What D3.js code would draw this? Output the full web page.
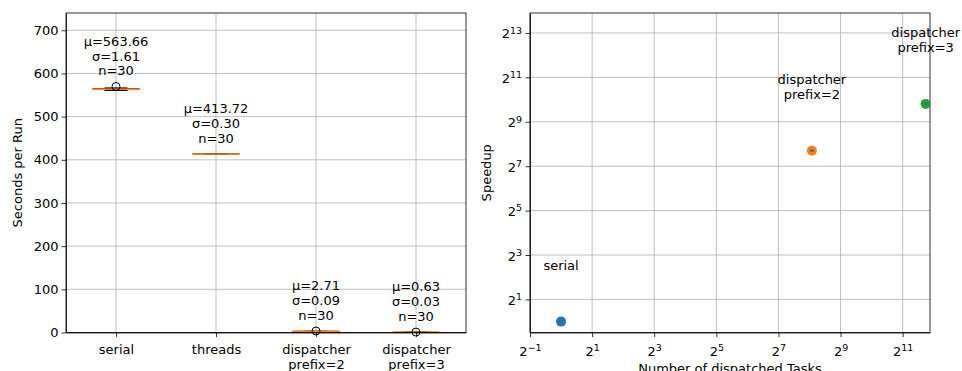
<!DOCTYPE html>
<html>
<head>
<meta charset="utf-8">
<script src="https://cdn.jsdelivr.net/npm/d3@7"></script>
<style>
  body { margin: 0; background: #fff; }
  svg { font-family: "DejaVu Sans", sans-serif; }
  .grid line { stroke: #b0b0b0; stroke-width: 0.8; }
</style>
</head>
<body>
<svg class="chart" width="962" height="371"></svg>
<script>
// box plot data (seconds per run)
const categories = ["serial", "threads", "dispatcher\nprefix=2", "dispatcher\nprefix=3"],
      means = ["563.66", "413.72", "2.71", "0.63"],
      sigmas = ["1.61", "0.30", "0.09", "0.03"],
      counts = [30, 30, 30, 30],
      q1 = [562.7, 413.5, 2.65, 0.61],
      medians = [563.5, 413.7, 2.70, 0.63],
      q3 = [564.4, 413.9, 2.76, 0.65],
      whiskLo = [560.5, 413.2, 2.55, 0.58],
      whiskHi = [566.5, 414.3, 2.90, 0.68],
      fliers = [[569.8], [], [3.4], [1.0]],
      yTicks = [0, 100, 200, 300, 400, 500, 600, 700]

// speedup data
const pointLabels = ["serial", "dispatcher\nprefix=2", "dispatcher\nprefix=3"],
      tasks = [1, 270, 3420],
      speedups = [1, 208, 895],
      pointColors = ["#1f77b4", "#ff7f0e", "#2ca02c"],
      logTicksX = [-1, 1, 3, 5, 7, 9, 11],
      logTicksY = [1, 3, 5, 7, 9, 11, 13]

const FONT = "'DejaVu Sans', sans-serif"

var svg = d3.select(".chart")

function styleAxis(g) {
  g.attr("font-family", FONT).attr("font-size", 13)
  g.selectAll("path, line").attr("stroke", "#000").attr("stroke-width", 0.8)
  g.selectAll("text").attr("fill", "#000")
}

// ---------- left: box plot ----------
var L = { left: 66, right: 466, top: 13, bottom: 332.5 }

var x = d3.scaleLinear().domain([0.5, 4.5]).range([L.left, L.right])
var y = d3.scaleLinear().domain([0, 740]).range([L.bottom, L.top])

var gl = svg.append("g")

var gridL = gl.append("g").attr("class", "grid")
gridL.selectAll("line.h").data(yTicks).enter().append("line")
  .attr("x1", L.left).attr("x2", L.right)
  .attr("y1", d => y(d)).attr("y2", d => y(d))
gridL.selectAll("line.v").data(categories).enter().append("line")
  .attr("x1", (d, i) => x(i + 1)).attr("x2", (d, i) => x(i + 1))
  .attr("y1", L.top).attr("y2", L.bottom)

var bw = 0.46
categories.forEach(function(c, i) {
  var cx = x(i + 1), half = (x(bw) - x(0)) / 2, cap = half / 2
  var b = gl.append("g")
  b.append("line").attr("x1", cx).attr("x2", cx).attr("y1", y(whiskLo[i])).attr("y2", y(q1[i]))
    .attr("stroke", "#000").attr("stroke-width", 1)
  b.append("line").attr("x1", cx).attr("x2", cx).attr("y1", y(q3[i])).attr("y2", y(whiskHi[i]))
    .attr("stroke", "#000").attr("stroke-width", 1)
  ;[whiskLo[i], whiskHi[i]].forEach(function(v) {
    b.append("line").attr("x1", cx - cap).attr("x2", cx + cap).attr("y1", y(v)).attr("y2", y(v))
      .attr("stroke", "#000").attr("stroke-width", 1)
  })
  b.append("rect").attr("x", cx - half).attr("width", 2 * half)
    .attr("y", y(q3[i])).attr("height", Math.max(0.1, y(q1[i]) - y(q3[i])))
    .attr("fill", "none").attr("stroke", "#000").attr("stroke-width", 1)
  b.append("line").attr("x1", cx - half).attr("x2", cx + half)
    .attr("y1", y(medians[i])).attr("y2", y(medians[i]))
    .attr("stroke", "#ff7f0e").attr("stroke-width", 1.5)
  fliers[i].forEach(function(v) {
    b.append("circle").attr("cx", cx).attr("cy", y(v)).attr("r", 4)
      .attr("fill", "none").attr("stroke", "#000").attr("stroke-width", 1)
  })

  var top = d3.max([whiskHi[i]].concat(fliers[i]))
  var base = y(top) - 11
  var lines = ["μ=" + means[i], "σ=" + sigmas[i], "n=" + counts[i]]
  gl.append("text").attr("text-anchor", "middle").style("font-size", "13px")
    .selectAll("tspan").data(lines).enter().append("tspan")
      .attr("x", cx).attr("y", (d, k) => base - (2 - k) * 14.8)
      .text(d => d)
})

gl.append("g")
  .attr("transform", "translate(" + L.left + ",0)")
  .call(d3.axisLeft(y).tickValues(yTicks).tickSize(4.5).tickPadding(3).tickSizeOuter(0))
  .call(styleAxis)

var xa = gl.append("g")
  .attr("transform", "translate(0," + L.bottom + ")")
  .call(d3.axisBottom(x).tickValues([1, 2, 3, 4]).tickSize(4.5).tickSizeOuter(0).tickFormat(""))
  .call(styleAxis)
xa.selectAll(".tick").append("text")
  .attr("text-anchor", "middle").attr("fill", "#000")
  .selectAll("tspan").data((d, i) => categories[i].split("\n")).enter().append("tspan")
    .attr("x", 0).attr("y", (d, k) => 21 + k * 15).text(d => d)

gl.append("rect").attr("x", L.left).attr("y", L.top)
  .attr("width", L.right - L.left).attr("height", L.bottom - L.top)
  .attr("fill", "none").attr("stroke", "#000").attr("stroke-width", 0.8)

gl.append("text")
  .attr("transform", "translate(22," + ((L.top + L.bottom) / 2) + ") rotate(-90)")
  .attr("text-anchor", "middle").style("font-size", "13px")
  .text("Seconds per Run")

// ---------- right: speedup (log2 / log2) ----------
var R = { left: 530, right: 930, top: 13, bottom: 332.5 }

var xs = d3.scaleLog().base(2).domain([Math.pow(2, -1), Math.pow(2, 11.88)]).range([R.left, R.right])
var ys = d3.scaleLog().base(2).domain([Math.pow(2, -0.49), Math.pow(2, 13.9)]).range([R.bottom, R.top])

var gr = svg.append("g")
var grid = gr.append("g").attr("class", "grid")
grid.selectAll("line.v").data(logTicksX).enter().append("line")
  .attr("x1", d => xs(Math.pow(2, d))).attr("x2", d => xs(Math.pow(2, d)))
  .attr("y1", R.top).attr("y2", R.bottom)
grid.selectAll("line.h").data(logTicksY).enter().append("line")
  .attr("x1", R.left).attr("x2", R.right)
  .attr("y1", d => ys(Math.pow(2, d))).attr("y2", d => ys(Math.pow(2, d)))

function powLabel(sel, e) {
  sel.append("tspan").text("2")
  sel.append("tspan").attr("dy", "-0.5em").style("font-size", "9.5px")
    .text(e < 0 ? "\u2212" + (-e) : e)
}

var xax = gr.append("g")
  .attr("transform", "translate(0," + R.bottom + ")")
  .call(d3.axisBottom(xs).tickValues(logTicksX.map(d => Math.pow(2, d)))
    .tickSize(4.5).tickSizeOuter(0).tickFormat(""))
  .call(styleAxis)
xax.selectAll(".tick").each(function(d) {
  var t = d3.select(this).append("text").attr("text-anchor", "middle").attr("y", 23).attr("fill", "#000")
  powLabel(t, Math.round(Math.log2(d)))
})

var yax = gr.append("g")
  .attr("transform", "translate(" + R.left + ",0)")
  .call(d3.axisLeft(ys).tickValues(logTicksY.map(d => Math.pow(2, d)))
    .tickSize(4.5).tickSizeOuter(0).tickFormat(""))
  .call(styleAxis)
yax.selectAll(".tick").each(function(d) {
  var t = d3.select(this).append("text").attr("text-anchor", "end").attr("x", -8).attr("y", 5).attr("fill", "#000")
  powLabel(t, Math.round(Math.log2(d)))
})

gr.append("rect").attr("x", R.left).attr("y", R.top)
  .attr("width", R.right - R.left).attr("height", R.bottom - R.top)
  .attr("fill", "none").attr("stroke", "#000").attr("stroke-width", 0.8)

tasks.forEach(function(t, i) {
  var px = xs(t), py = ys(speedups[i])
  gr.append("circle").attr("cx", px).attr("cy", py).attr("r", 5).attr("fill", pointColors[i])
  if (i > 0) {
    gr.append("rect").attr("x", px - 2).attr("y", py - 1).attr("width", 4).attr("height", 2)
      .attr("fill", "#1f77b4")
  }
  var lines = pointLabels[i].split("\n"), n = lines.length
  gr.append("text").attr("text-anchor", "middle").style("font-size", "13px")
    .selectAll("tspan").data(lines).enter().append("tspan")
      .attr("x", px).attr("y", (d, k) => py - 52 - (n - 1 - k) * 15).text(d => d)
})

gr.append("text")
  .attr("transform", "translate(491," + ((R.top + R.bottom) / 2) + ") rotate(-90)")
  .attr("text-anchor", "middle").style("font-size", "13px")
  .text("Speedup")

gr.append("text").attr("x", (R.left + R.right) / 2).attr("y", 373)
  .attr("text-anchor", "middle").style("font-size", "13px")
  .text("Number of dispatched Tasks")
</script>
</body>
</html>
